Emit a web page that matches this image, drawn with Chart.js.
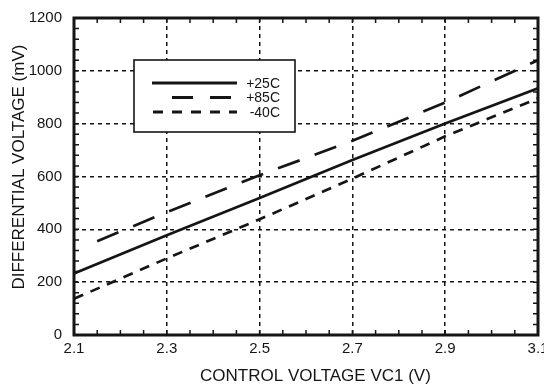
<!DOCTYPE html>
<html>
<head>
<meta charset="utf-8">
<script src="https://cdn.jsdelivr.net/npm/chart.js@4"></script>
<style>
html, body { margin: 0; padding: 0; background: #fff; overflow: hidden; }
#wrap { width: 544px; height: 387px; position: relative; }
</style>
</head>
<body>
<div id="wrap"><canvas id="chart"></canvas></div>
<script>
// Datos
const vc = [2.1, 2.3, 2.5, 2.7, 2.9, 3.1];
const vc85 = [2.15, 2.3, 2.5, 2.7, 2.9, 3.1];
const diff25 = [233, 378, 519, 662, 801, 934];
const diff85 = [355, 465, 605, 735, 880, 1040];
const diffM40 = [137, 290, 438, 592, 752, 896];
const xTicks = [2.1, 2.3, 2.5, 2.7, 2.9, 3.1];
const yTicks = [0, 200, 400, 600, 800, 1000, 1200];
const seriesLabels = ['+25C', '+85C', '-40C'];

const INK = '#151515';
const FONT = "'Liberation Sans', Arial, sans-serif";

function toPoints(xs, ys) {
    return xs.map((x, i) => ({ x: x, y: ys[i] }));
}

// Marco completo y marcas menores hacia dentro
const framePlugin = {
    id: 'frame',
    afterDatasetsDraw(chart) {
        const { ctx, chartArea: a, scales: { x, y } } = chart;
        ctx.save();
        ctx.strokeStyle = INK;
        ctx.lineWidth = 1.5;
        ctx.beginPath();
        for (let i = 0; i <= 20; i++) {
            const px = x.getPixelForValue(2.1 + i * 0.05);
            ctx.moveTo(px, a.bottom); ctx.lineTo(px, a.bottom - 5);
            ctx.moveTo(px, a.top); ctx.lineTo(px, a.top + 5);
        }
        for (let i = 0; i <= 30; i++) {
            const py = y.getPixelForValue(i * 40);
            ctx.moveTo(a.left, py); ctx.lineTo(a.left + 5, py);
            ctx.moveTo(a.right, py); ctx.lineTo(a.right - 5, py);
        }
        ctx.stroke();
        ctx.lineWidth = 3;
        ctx.strokeRect(a.left, a.top, a.right - a.left, a.bottom - a.top);
        ctx.restore();
    }
};

// Leyenda en recuadro
const legendBox = {
    id: 'legendBox',
    afterDatasetsDraw(chart) {
        const { ctx, chartArea: a } = chart;
        const bx = a.left + 60, by = a.top + 42, bw = 161, bh = 72;
        const dashes = [[], [21, 17], [10, 9]];
        const starts = [18, 38, 19];
        ctx.save();
        ctx.fillStyle = '#fff';
        ctx.fillRect(bx, by, bw, bh);
        ctx.strokeStyle = INK;
        ctx.lineWidth = 1.6;
        ctx.strokeRect(bx, by, bw, bh);
        ctx.font = '14px ' + FONT;
        ctx.textAlign = 'right';
        ctx.textBaseline = 'middle';
        seriesLabels.forEach((lab, i) => {
            const ly = by + 23 + i * 14.5;
            ctx.setLineDash(dashes[i]);
            ctx.lineWidth = 3;
            ctx.beginPath();
            ctx.moveTo(bx + starts[i], ly);
            ctx.lineTo(bx + (i === 1 ? 98 : 103), ly);
            ctx.stroke();
            ctx.setLineDash([]);
            ctx.fillStyle = INK;
            ctx.fillText(lab, bx + 146, ly + 1);
        });
        ctx.restore();
    }
};

const lineBase = {
    borderColor: INK,
    borderWidth: 2.7,
    pointRadius: 0,
    tension: 0,
    fill: false
};

new Chart(document.getElementById('chart'), {
    type: 'line',
    data: {
        datasets: [
            { ...lineBase, label: seriesLabels[0], data: toPoints(vc, diff25) },
            { ...lineBase, label: seriesLabels[1], data: toPoints(vc85, diff85), borderDash: [23, 16] },
            { ...lineBase, label: seriesLabels[2], data: toPoints(vc, diffM40), borderDash: [10, 8] }
        ]
    },
    options: {
        responsive: true,
        maintainAspectRatio: false,
        animation: false,
        layout: { padding: { top: 18, right: 6, left: 0, bottom: 0 } },
        plugins: {
            legend: { display: false },
            tooltip: { enabled: false }
        },
        scales: {
            x: {
                type: 'linear',
                min: 2.1,
                max: 3.1,
                afterBuildTicks: s => { s.ticks = xTicks.map(v => ({ value: v })); },
                afterFit: s => { s.height = 52; s.paddingLeft = 0; s.paddingRight = 0; },
                grid: { color: INK, lineWidth: 1.5, drawTicks: false },
                border: { display: false, dash: [4, 4] },
                ticks: {
                    autoSkip: false,
                    maxRotation: 0,
                    padding: 5,
                    color: INK,
                    font: { family: FONT, size: 15 },
                    callback: v => v.toFixed(1)
                },
                title: {
                    display: true,
                    // espacios iniciales: el título va algo a la derecha del centro
                    text: '    CONTROL VOLTAGE VC1 (V)',
                    color: INK,
                    font: { family: FONT, size: 17 },
                    padding: { top: 0, bottom: 0 }
                }
            },
            y: {
                type: 'linear',
                min: 0,
                max: 1200,
                afterBuildTicks: s => { s.ticks = yTicks.map(v => ({ value: v })); },
                afterFit: s => { s.width = 74; s.paddingTop = 0; s.paddingBottom = 0; },
                grid: { color: INK, lineWidth: 1.5, drawTicks: false },
                border: { display: false, dash: [4, 4] },
                ticks: {
                    autoSkip: false,
                    padding: 12,
                    color: INK,
                    font: { family: FONT, size: 15 },
                    callback: v => String(v)
                },
                title: {
                    display: true,
                    text: '    DIFFERENTIAL VOLTAGE (mV)',
                    color: INK,
                    font: { family: FONT, size: 17 },
                    padding: { top: 9, bottom: 0 }
                }
            }
        }
    },
    plugins: [framePlugin, legendBox]
});
</script>
</body>
</html>
